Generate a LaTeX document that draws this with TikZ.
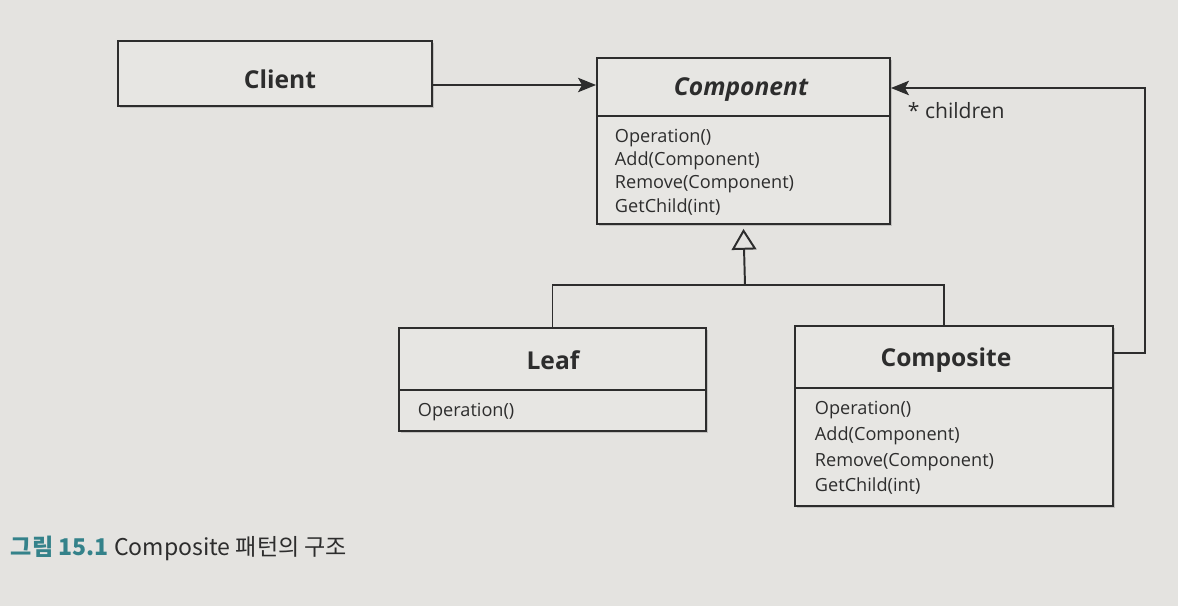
\documentclass[tikz,border=0pt]{standalone}
\usepackage{fontspec}
\setmainfont{Open Sans}
\newfontfamily\cjk{Noto Sans CJK KR}
\usetikzlibrary{arrows.meta,shadows}
\definecolor{paper}{RGB}{228,227,224}
\definecolor{boxfill}{RGB}{231,230,227}
\definecolor{ink}{RGB}{45,45,45}
\definecolor{teal}{RGB}{52,130,138}
\tikzset{
  classbox/.style={draw=ink,line width=1.3pt,fill=boxfill,
    drop shadow={shadow xshift=1.5pt,shadow yshift=-1.5pt,opacity=0.35}},
  classname/.style={font=\fontsize{17.5}{21}\selectfont\bfseries,text=ink},
  ops/.style={font=\fontsize{12.9}{16.6}\selectfont,text=ink,align=left,anchor=west},
  link/.style={draw=ink,line width=1.4pt}
}
\begin{document}
\begin{tikzpicture}[x=0.025cm,y=-0.025cm]
\useasboundingbox[fill=paper] (0,0) rectangle (1178,606);
% classes
\node[classbox,minimum width=7.85cm,minimum height=1.625cm] (client) at (275,73.5) {};
\node[classname] at (280,79) {Client};
\node[classbox,minimum width=7.325cm,minimum height=4.15cm] (component) at (743.5,141) {};
\draw[link] (component.west |- 0,116) -- (component.east |- 0,116);
\node[classname,font=\fontsize{17.5}{21}\selectfont\bfseries\itshape] at (741,90) {Component};
\node[ops] at (610,172) {Operation()\\Add(Component)\\Remove(Component)\\GetChild(int)};
\node[classbox,minimum width=7.675cm,minimum height=2.575cm] (leaf) at (552.5,379.5) {};
\draw[link] (leaf.west |- 0,390) -- (leaf.east |- 0,390);
\node[classname] at (553,360) {Leaf};
\node[ops] at (413,412) {Operation()};
\node[classbox,minimum width=7.95cm,minimum height=4.5cm] (composite) at (954,416) {};
\draw[link] (composite.west |- 0,388) -- (composite.east |- 0,388);
\node[classname] at (946,360) {Composite};
\node[ops,font=\fontsize{12.9}{18.3}\selectfont] at (810,448) {Operation()\\Add(Component)\\Remove(Component)\\GetChild(int)};
% connectors
\coordinate (fork) at (745,285);
\coordinate (turn) at (1145,353);
\draw[link,-{Stealth[length=0.45cm,width=0.36cm,inset=0.1cm]}] (client.east |- 0,85) -- (component.west |- 0,85);
\draw[link] (leaf.north) |- (fork) -| ([xshift=-0.25cm]composite.north);
\draw[link,-{Triangle[open,length=0.52cm,width=0.62cm]}] (fork) -- ([yshift=-0.1cm]component.south);
\draw[link,-{Stealth[length=0.45cm,width=0.36cm,inset=0.1cm]}] (composite.east |- turn) -- (turn) |- (component.east |- 0,88);
\node[ops,font=\fontsize{15}{18}\selectfont] at (903,111) {* children};
% caption
\node[anchor=west,font=\cjk\fontsize{16.4}{20}\selectfont] at (6,548)
  {\textcolor{teal}{\bfseries 그림 15.1} \textcolor{ink}{Composite 패턴의 구조}};
\end{tikzpicture}
\end{document}
